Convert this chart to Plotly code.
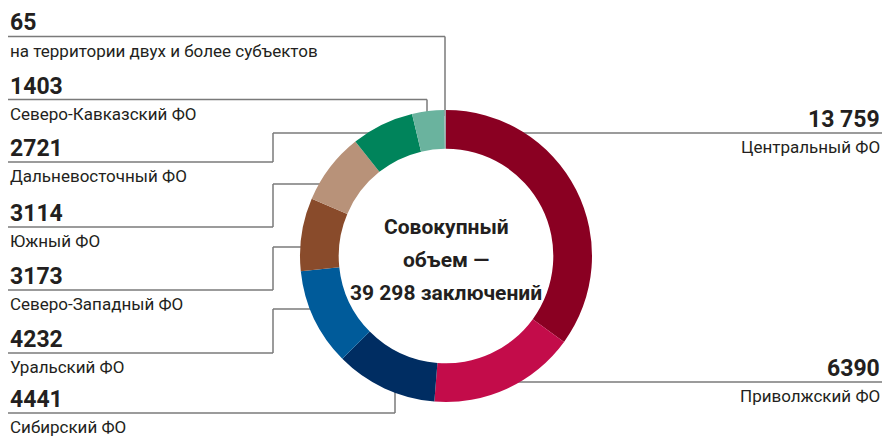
import plotly.graph_objects as go

W, H = 885, 436

regions = ["Центральный ФО", "Приволжский ФО", "Сибирский ФО", "Уральский ФО",
           "Северо-Западный ФО", "Южный ФО", "Дальневосточный ФО",
           "Северо-Кавказский ФО", "на территории двух и более субъектов"]
values = [13759, 6390, 4441, 4232, 3173, 3114, 2721, 1403, 65]
value_labels = ["13 759", "6390", "4441", "4232", "3173", "3114", "2721", "1403", "65"]
colors = ["#8A0022", "#C30C4A", "#002D62", "#005B9A", "#894B2B", "#B89279",
          "#00845B", "#6AB39E", "#9FA3A6"]
center_text = ["Совокупный", "объем —", "39 298 заключений"]

FONT = "Roboto, sans-serif"

cx, cy, r = 446, 256, 146

fig = go.Figure(go.Pie(
    values=values, labels=regions, sort=False, direction="clockwise", rotation=0,
    hole=0.735, marker=dict(colors=colors, line=dict(width=0)),
    textinfo="none", hoverinfo="label+value",
    domain=dict(x=[(cx - r) / W, (cx + r) / W], y=[(H - cy - r) / H, (H - cy + r) / H]),
))

def px(x):
    return x / W

def py(y):
    return 1 - y / H

# leader-line paths in pixel coordinates (label side -> donut)
paths = {
    0: [(882, 133), (512, 133)],
    1: [(882, 382), (515, 382)],
    2: [(8, 413), (395, 413), (395, 385)],
    3: [(8, 353), (273, 353), (273, 309), (318, 309)],
    4: [(8, 290), (273, 290), (273, 247), (308, 247)],
    5: [(8, 227), (273, 227), (273, 184), (327, 184)],
    6: [(8, 162), (273, 162), (273, 133), (374, 133)],
    7: [(8, 99.5), (427, 99.5), (427, 118)],
    8: [(8, 36.5), (445, 36.5), (445, 116)],
}
shapes = []
for i, pts in paths.items():
    for (x0, y0), (x1, y1) in zip(pts[:-1], pts[1:]):
        shapes.append(dict(type="line", xref="paper", yref="paper",
                           x0=px(x0), y0=py(y0), x1=px(x1), y1=py(y1),
                           line=dict(color="#7A7A7A", width=1.5), layer="below"))

annotations = []
for i, (lab, val) in enumerate(zip(regions, value_labels)):
    ly = paths[i][0][1]
    right = i in (0, 1)
    xa = 882 if right else 8
    anchor = "right" if right else "left"
    annotations.append(dict(x=px(xa), y=py(ly - 13.5), xref="paper", yref="paper",
                            text=f"<b>{val}</b>", showarrow=False, xanchor=anchor,
                            yanchor="middle", font=dict(family=FONT, size=23, color="#231F20")))
    annotations.append(dict(x=px(xa), y=py(ly + 14), xref="paper", yref="paper",
                            text=lab, showarrow=False, xanchor=anchor,
                            yanchor="middle", font=dict(family=FONT, size=17, color="#231F20")))

for k, t in enumerate(center_text):
    annotations.append(dict(x=px(cx), y=py(227 + 33 * k), xref="paper", yref="paper",
                            text=f"<b>{t}</b>", showarrow=False, xanchor="center",
                            yanchor="middle", font=dict(family=FONT, size=21, color="#231F20")))

fig.update_layout(width=W, height=H, margin=dict(l=0, r=0, t=0, b=0),
                  paper_bgcolor="white", plot_bgcolor="white", showlegend=False,
                  shapes=shapes, annotations=annotations)

fig.write_html("out.html", config={"displayModeBar": False},
               post_script="document.body.style.margin='0px';")
